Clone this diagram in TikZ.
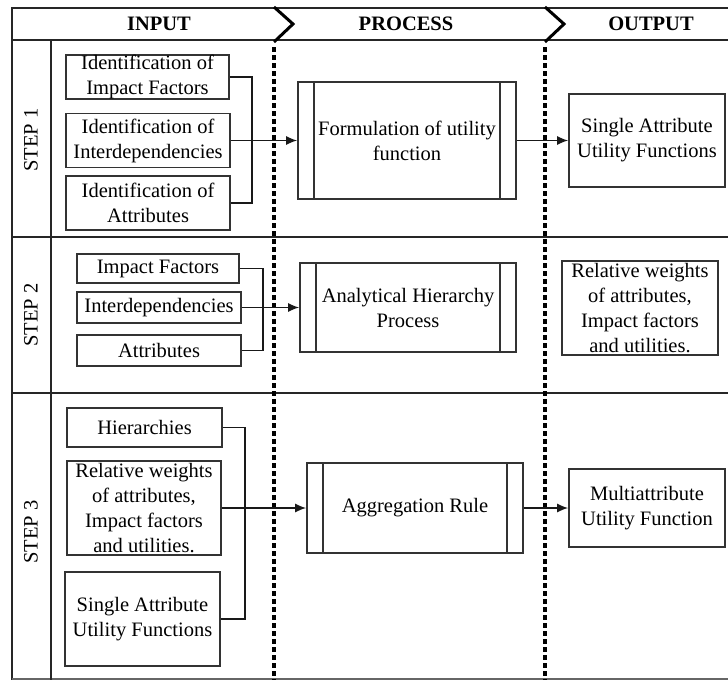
\documentclass[tikz,border=0pt]{standalone}
\usepackage{fontspec}
\setmainfont{Liberation Serif}
\usetikzlibrary{arrows.meta,calc}
\tikzset{
  frame/.style={draw=black!85, line width=2.2pt},
  sep/.style={draw=black, line width=3.2pt, dash pattern=on 4.5pt off 3.5pt},
  chev/.style={draw=black, line width=3pt},
  inbox/.style={draw=black!80, line width=1.6pt, inner sep=0pt, align=center,
     font=\fontsize{20.5}{25}\selectfont},
  procbox/.style={inbox, path picture={
     \draw[black!80, line width=1.6pt] ([xshift=16pt]path picture bounding box.north west) -- ([xshift=16pt]path picture bounding box.south west);
     \draw[black!80, line width=1.6pt] ([xshift=-16pt]path picture bounding box.north east) -- ([xshift=-16pt]path picture bounding box.south east);}},
  conn/.style={draw=black!90, line width=1.6pt},
  arr/.style={conn, -{Latex[length=11pt,width=9pt]}},
  head/.style={font=\fontsize{20.5}{24}\selectfont\bfseries},
  steplab/.style={font=\fontsize{20.5}{24}\selectfont, rotate=90},
}
\begin{document}
\begin{tikzpicture}[x=1pt,y=-1pt]
\useasboundingbox (0,0) rectangle (728,680);
\fill[white] (0,0) rectangle (728,680);
% frame
\draw[frame] (728,8) -- (12,8) -- (12,680);
\draw[frame] (12,40) -- (728,40);
\draw[frame] (12,237) -- (728,237);
\draw[frame] (12,393) -- (728,393);
\draw[frame, line width=1.4pt, draw=black!60] (12,679) -- (728,679);
\draw[frame] (51,40) -- (51,680);
% separators and chevrons
\draw[chev] (274,7) -- (293,24) -- (274,42);
\draw[chev] (545,7) -- (564,24) -- (545,42);
\draw[sep] (274,47) -- (274,680);
\draw[sep] (545,47) -- (545,680);
% headers
\node[head] (hin) at (159,24) {INPUT};
\node[head] (hpr) at (406,24) {PROCESS};
\node[head] (hout) at (651,24) {OUTPUT};
% step labels
\node[steplab] (s1) at (31,140) {STEP 1};
\node[steplab] (s2) at (31,315) {STEP 2};
\node[steplab] (s3) at (31,532) {STEP 3};
% STEP 1
\node[inbox, minimum width=163pt, minimum height=44pt] (a1) at (147.5,77) {Identification of\\Impact Factors};
\node[inbox, minimum width=164pt, minimum height=54pt] (b1) at (148,140.5) {Identification of\\Interdependencies};
\node[inbox, minimum width=164pt, minimum height=54pt] (c1) at (148,203) {Identification of\\Attributes};
\node[procbox, minimum width=218pt, minimum height=117pt] (p1) at (407,140.5) {Formulation of utility\\function};
\node[inbox, minimum width=156pt, minimum height=93pt] (o1) at (647,140.5) {Single Attribute\\Utility Functions};
\coordinate (k1) at (252,77);
\draw[conn] (a1.east) -- (k1) |- (c1.east);
\draw[arr] (b1.east) -- (p1.west);
\draw[arr] (p1.east) -- (o1.west);
% STEP 2
\node[inbox, minimum width=162pt, minimum height=29pt] (a2) at (158,268.5) {Impact Factors};
\node[inbox, minimum width=164pt, minimum height=31pt] (b2) at (159,307.5) {Interdependencies};
\node[inbox, minimum width=164pt, minimum height=31pt] (c2) at (159,350.5) {Attributes};
\node[procbox, minimum width=216pt, minimum height=89pt] (p2) at (408,307.5) {Analytical Hierarchy\\Process};
\node[inbox, minimum width=156pt, minimum height=94pt] (o2) at (640,308) {Relative weights\\of attributes,\\Impact factors\\and utilities.};
\coordinate (k2) at (263,268.5);
\draw[conn] (a2.east) -- (k2) |- (c2.east);
\draw[arr] (b2.east) -- (p2.west);
% STEP 3
\node[inbox, minimum width=155pt, minimum height=39pt] (a3) at (144.5,427.5) {Hierarchies};
\node[inbox, minimum width=154pt, minimum height=94pt] (b3) at (144,508) {Relative weights\\of attributes,\\Impact factors\\and utilities.};
\node[inbox, minimum width=155pt, minimum height=94pt] (c3) at (142.5,619) {Single Attribute\\Utility Functions};
\node[procbox, minimum width=216pt, minimum height=90pt] (p3) at (415,508) {Aggregation Rule};
\node[inbox, minimum width=156pt, minimum height=78pt] (o3) at (647,508) {Multiattribute\\Utility Function};
\coordinate (k3) at (245,427.5);
\draw[conn] (a3.east) -- (k3) |- (c3.east);
\draw[arr] (b3.east) -- (p3.west);
\draw[arr] (p3.east) -- (o3.west);
\end{tikzpicture}
\end{document}
